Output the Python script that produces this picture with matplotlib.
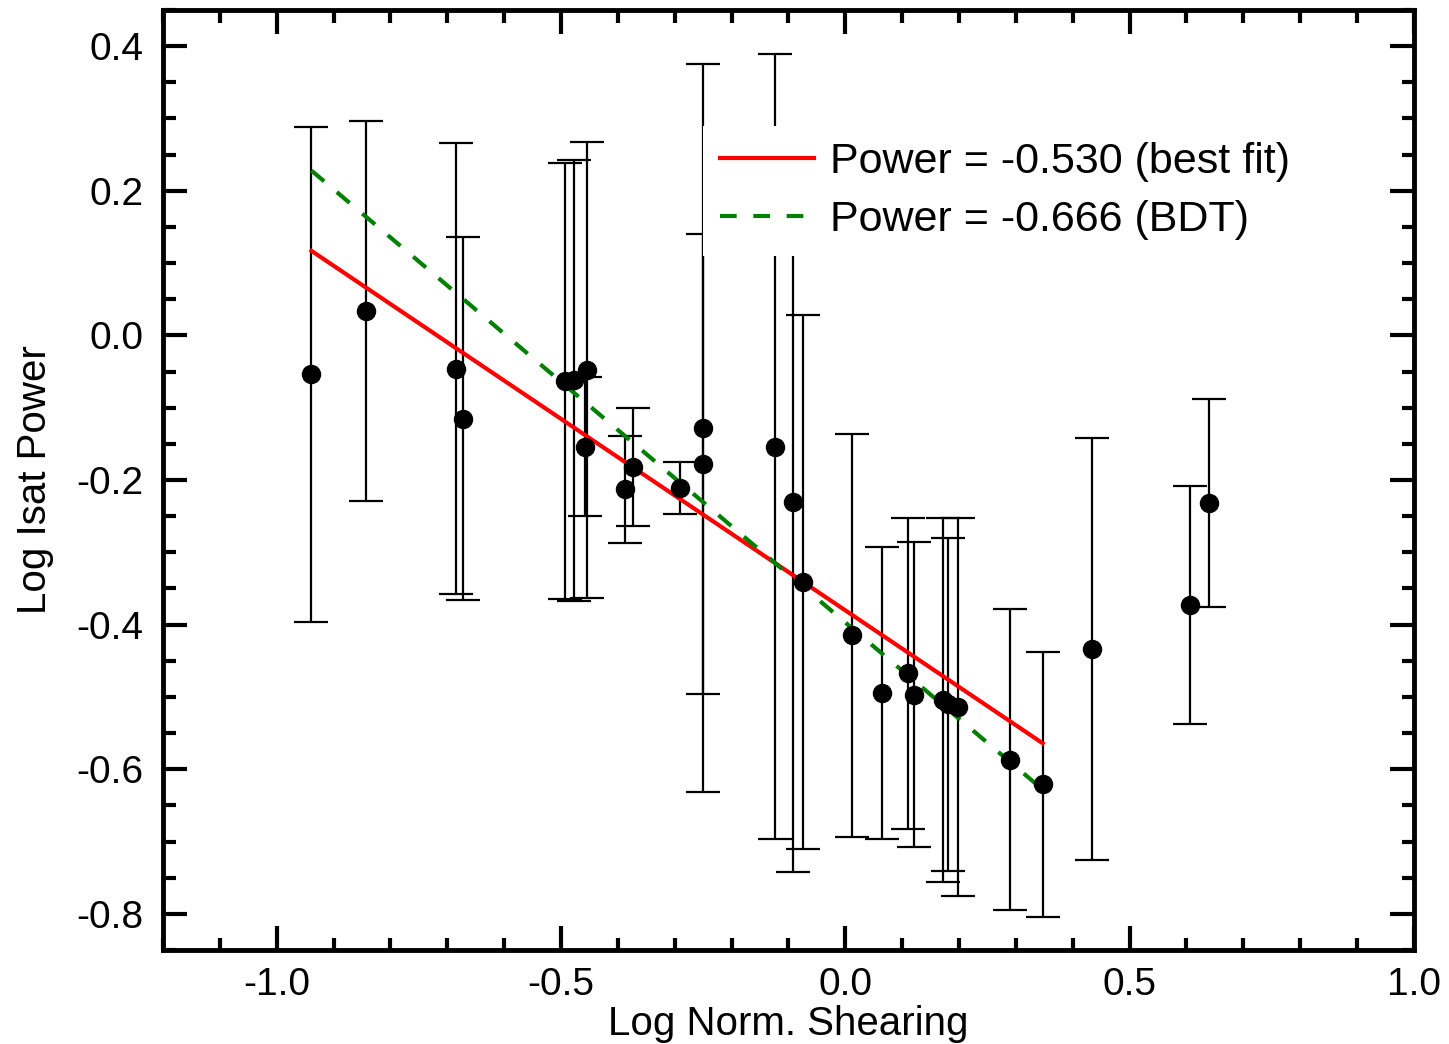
import numpy as np
import matplotlib.pyplot as plt
from matplotlib.ticker import MultipleLocator, FormatStrFormatter

plt.rcParams['font.family'] = ['Liberation Sans', 'DejaVu Sans']
plt.rcParams['axes.unicode_minus'] = False

# measured points (log norm. shearing, log isat power, symmetric error)
shear = [-0.939, -0.843, -0.684, -0.673, -0.493, -0.478, -0.455, -0.458,
         -0.388, -0.374, -0.291, -0.251, -0.251, -0.123, -0.092, -0.075,
         0.012, 0.065, 0.111, 0.121, 0.172, 0.181, 0.198, 0.289, 0.347,
         0.434, 0.606, 0.640]
power = [-0.054, 0.034, -0.046, -0.115, -0.063, -0.062, -0.048, -0.154,
         -0.213, -0.182, -0.211, -0.128, -0.178, -0.154, -0.231, -0.341,
         -0.415, -0.494, -0.467, -0.497, -0.504, -0.510, -0.514, -0.587,
         -0.621, -0.434, -0.373, -0.232]
power_err = [0.342, 0.263, 0.312, 0.251, 0.302, 0.305, 0.315, 0.096,
             0.074, 0.081, 0.036, 0.503, 0.318, 0.543, 0.511, 0.369,
             0.278, 0.202, 0.215, 0.211, 0.252, 0.230, 0.261, 0.208,
             0.183, 0.292, 0.165, 0.144]

# fit lines, end points
fit_x = [-0.939, 0.347]
best_fit_y = [0.117, -0.564]
bdt_y = [0.228, -0.628]

fig = plt.figure(figsize=(14.49, 10.44), dpi=100)
ax = fig.add_axes([0.1125, 0.090, 0.8633, 0.9004])

ax.errorbar(shear, power, yerr=power_err, fmt='none', ecolor='black',
            elinewidth=1.6, capsize=12, capthick=1.6, zorder=2)
ax.plot(fit_x, best_fit_y, color='red', lw=3, zorder=3,
        label='Power = -0.530 (best fit)')
ax.plot(fit_x, bdt_y, color='green', lw=3, ls=(0, (4, 4)), zorder=3,
        label='Power = -0.666 (BDT)')
ax.plot(shear, power, 'o', color='black', ms=13, zorder=4)

ax.set_xlim(-1.2, 1.0)
ax.set_ylim(-0.85, 0.45)
ax.xaxis.set_major_locator(MultipleLocator(0.5))
ax.xaxis.set_minor_locator(MultipleLocator(0.1))
ax.yaxis.set_major_locator(MultipleLocator(0.2))
ax.yaxis.set_minor_locator(MultipleLocator(0.05))
ax.xaxis.set_major_formatter(FormatStrFormatter('%.1f'))
ax.yaxis.set_major_formatter(FormatStrFormatter('%.1f'))

ax.tick_params(which='both', direction='in', top=True, right=True, width=3)
ax.tick_params(which='major', length=17, labelsize=28)
ax.tick_params(which='minor', length=9)
ax.tick_params(axis='y', which='major', pad=14)
ax.tick_params(axis='x', which='major', pad=12)
for s in ax.spines.values():
    s.set_linewidth(3.5)

ax.set_xlabel('Log Norm. Shearing', fontsize=29, labelpad=2)
ax.set_ylabel('Log Isat Power', fontsize=29, labelpad=16)

leg = ax.legend(loc='upper left', bbox_to_anchor=(0.432, 0.877), fontsize=31,
                frameon=True, facecolor='white', edgecolor='none', framealpha=1,
                fancybox=False, handlelength=2.2, handletextpad=0.35,
                labelspacing=0.42, borderpad=0.38, borderaxespad=0)
leg.set_zorder(10)

fig.savefig('out.png', dpi=100)
